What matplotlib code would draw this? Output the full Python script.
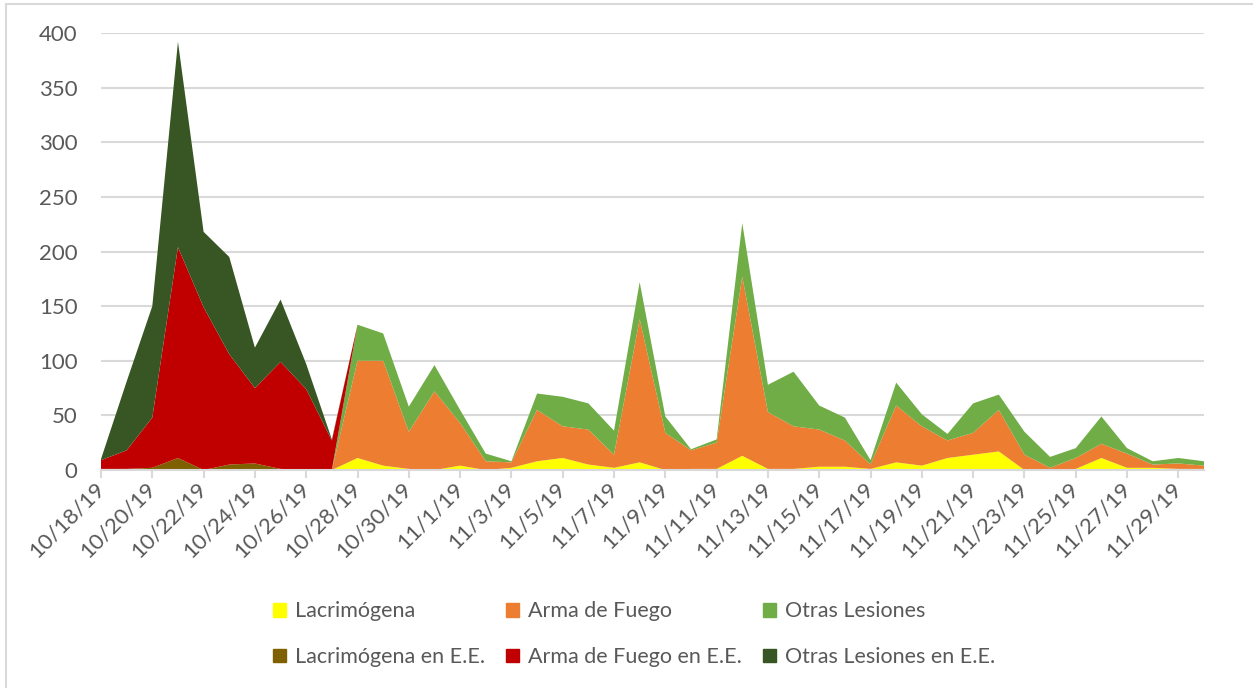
import matplotlib.pyplot as plt
import matplotlib.patches as mpatches
import pandas as pd

plt.rcParams['font.family'] = ['Lato', 'DejaVu Sans']

dates = pd.date_range('2019-10-18', '2019-11-30', freq='D')

lac = [0, 0, 0, 0, 0, 0, 0, 0, 0, 0,
       11, 4, 1, 0, 4, 0, 2, 8, 11, 5, 2, 7, 0, 1, 1, 13, 1, 1, 3, 3, 1, 7,
       4, 11, 14, 17, 0, 0, 1, 11, 2, 2, 1, 1]
arma = [0, 0, 0, 0, 0, 0, 0, 0, 0, 0,
        89, 96, 34, 72, 39, 8, 5, 47, 29, 32, 12, 131, 34, 17, 24, 164, 52, 39, 34, 24, 4, 52,
        36, 16, 20, 38, 14, 2, 10, 13, 13, 3, 5, 3]
otras = [0, 0, 0, 0, 0, 0, 0, 0, 0, 0,
         33, 25, 23, 24, 12, 7, 1, 15, 27, 24, 22, 34, 15, 1, 3, 49, 25, 50, 22, 21, 4, 21,
         11, 6, 27, 14, 21, 10, 9, 25, 5, 3, 5, 4]
lac_ee = [1, 1, 2, 11, 0, 5, 6, 1, 0, 0,
          0, 0, 0, 0, 0, 0, 0, 0, 0, 0, 0, 0, 0, 0, 0, 0, 0, 0, 0, 0, 0, 0,
          0, 0, 0, 0, 0, 0, 0, 0, 0, 0, 0, 0]
arma_ee = [8, 17, 46, 193, 149, 101, 69, 98, 74, 27,
           0, 0, 0, 0, 0, 0, 0, 0, 0, 0, 0, 0, 0, 0, 0, 0, 0, 0, 0, 0, 0, 0,
           0, 0, 0, 0, 0, 0, 0, 0, 0, 0, 0, 0]
otras_ee = [1, 63, 102, 188, 69, 89, 37, 57, 23, 1,
            0, 0, 0, 0, 0, 0, 0, 0, 0, 0, 0, 0, 0, 0, 0, 0, 0, 0, 0, 0, 0, 0,
            0, 0, 0, 0, 0, 0, 0, 0, 0, 0, 0, 0]

labels = ['Lacrimógena', 'Arma de Fuego', 'Otras Lesiones',
          'Lacrimógena en E.E.', 'Arma de Fuego en E.E.', 'Otras Lesiones en E.E.']
colors = ['#FFFF00', '#ED7D31', '#70AD47', '#7F6000', '#C00000', '#375623']
grey = '#595959'
grid = '#d9d9d9'

fig = plt.figure(figsize=(12.53, 6.88), dpi=100)
ax = fig.add_axes([101 / 1253, 1 - 470 / 688, 1103 / 1253, 437 / 688])

ax.stackplot(dates, lac, arma, otras, lac_ee, arma_ee, otras_ee,
             colors=colors, labels=labels, linewidth=0)

ax.set_xlim(dates[0], dates[-1])
ax.set_ylim(0, 400)
ax.set_yticks(range(0, 401, 50))
ax.grid(axis='y', color=grid, linewidth=1.5)
ax.set_axisbelow(True)
for s in ['top', 'right', 'left']:
    ax.spines[s].set_visible(False)
ax.spines['bottom'].set_color(grid)
ax.spines['bottom'].set_linewidth(1.5)

ticks = dates[::2]
ax.set_xticks(ticks)
ax.set_xticklabels([f"{d.month}/{d.day}/{d.strftime('%y')}" for d in ticks],
                   rotation=45, ha='right', va='center', rotation_mode='anchor')
ax.tick_params(axis='x', length=6, width=1.5, color=grid, labelcolor=grey,
               labelsize=16, pad=5)
ax.tick_params(axis='y', length=0, labelcolor=grey, labelsize=16, pad=17)

# chart frame
fig.patches.append(mpatches.Rectangle((6 / 1253, -0.1), 1.2, 1.1 - 4 / 688,
                                      transform=fig.transFigure, fill=False,
                                      edgecolor=grid, linewidth=1.5))

handles = [mpatches.Patch(color=c, label=l) for c, l in zip(colors, labels)]
order = [0, 3, 1, 4, 2, 5]
fig.legend([handles[i] for i in order], [labels[i] for i in order],
           ncol=3, loc='center', bbox_to_anchor=(0.506, 0.078), frameon=False,
           fontsize=15.5, labelcolor=grey, handlelength=0.6, handleheight=0.6,
           handletextpad=0.4, columnspacing=1.0, labelspacing=1.2)

fig.savefig('out.png', dpi=100)
